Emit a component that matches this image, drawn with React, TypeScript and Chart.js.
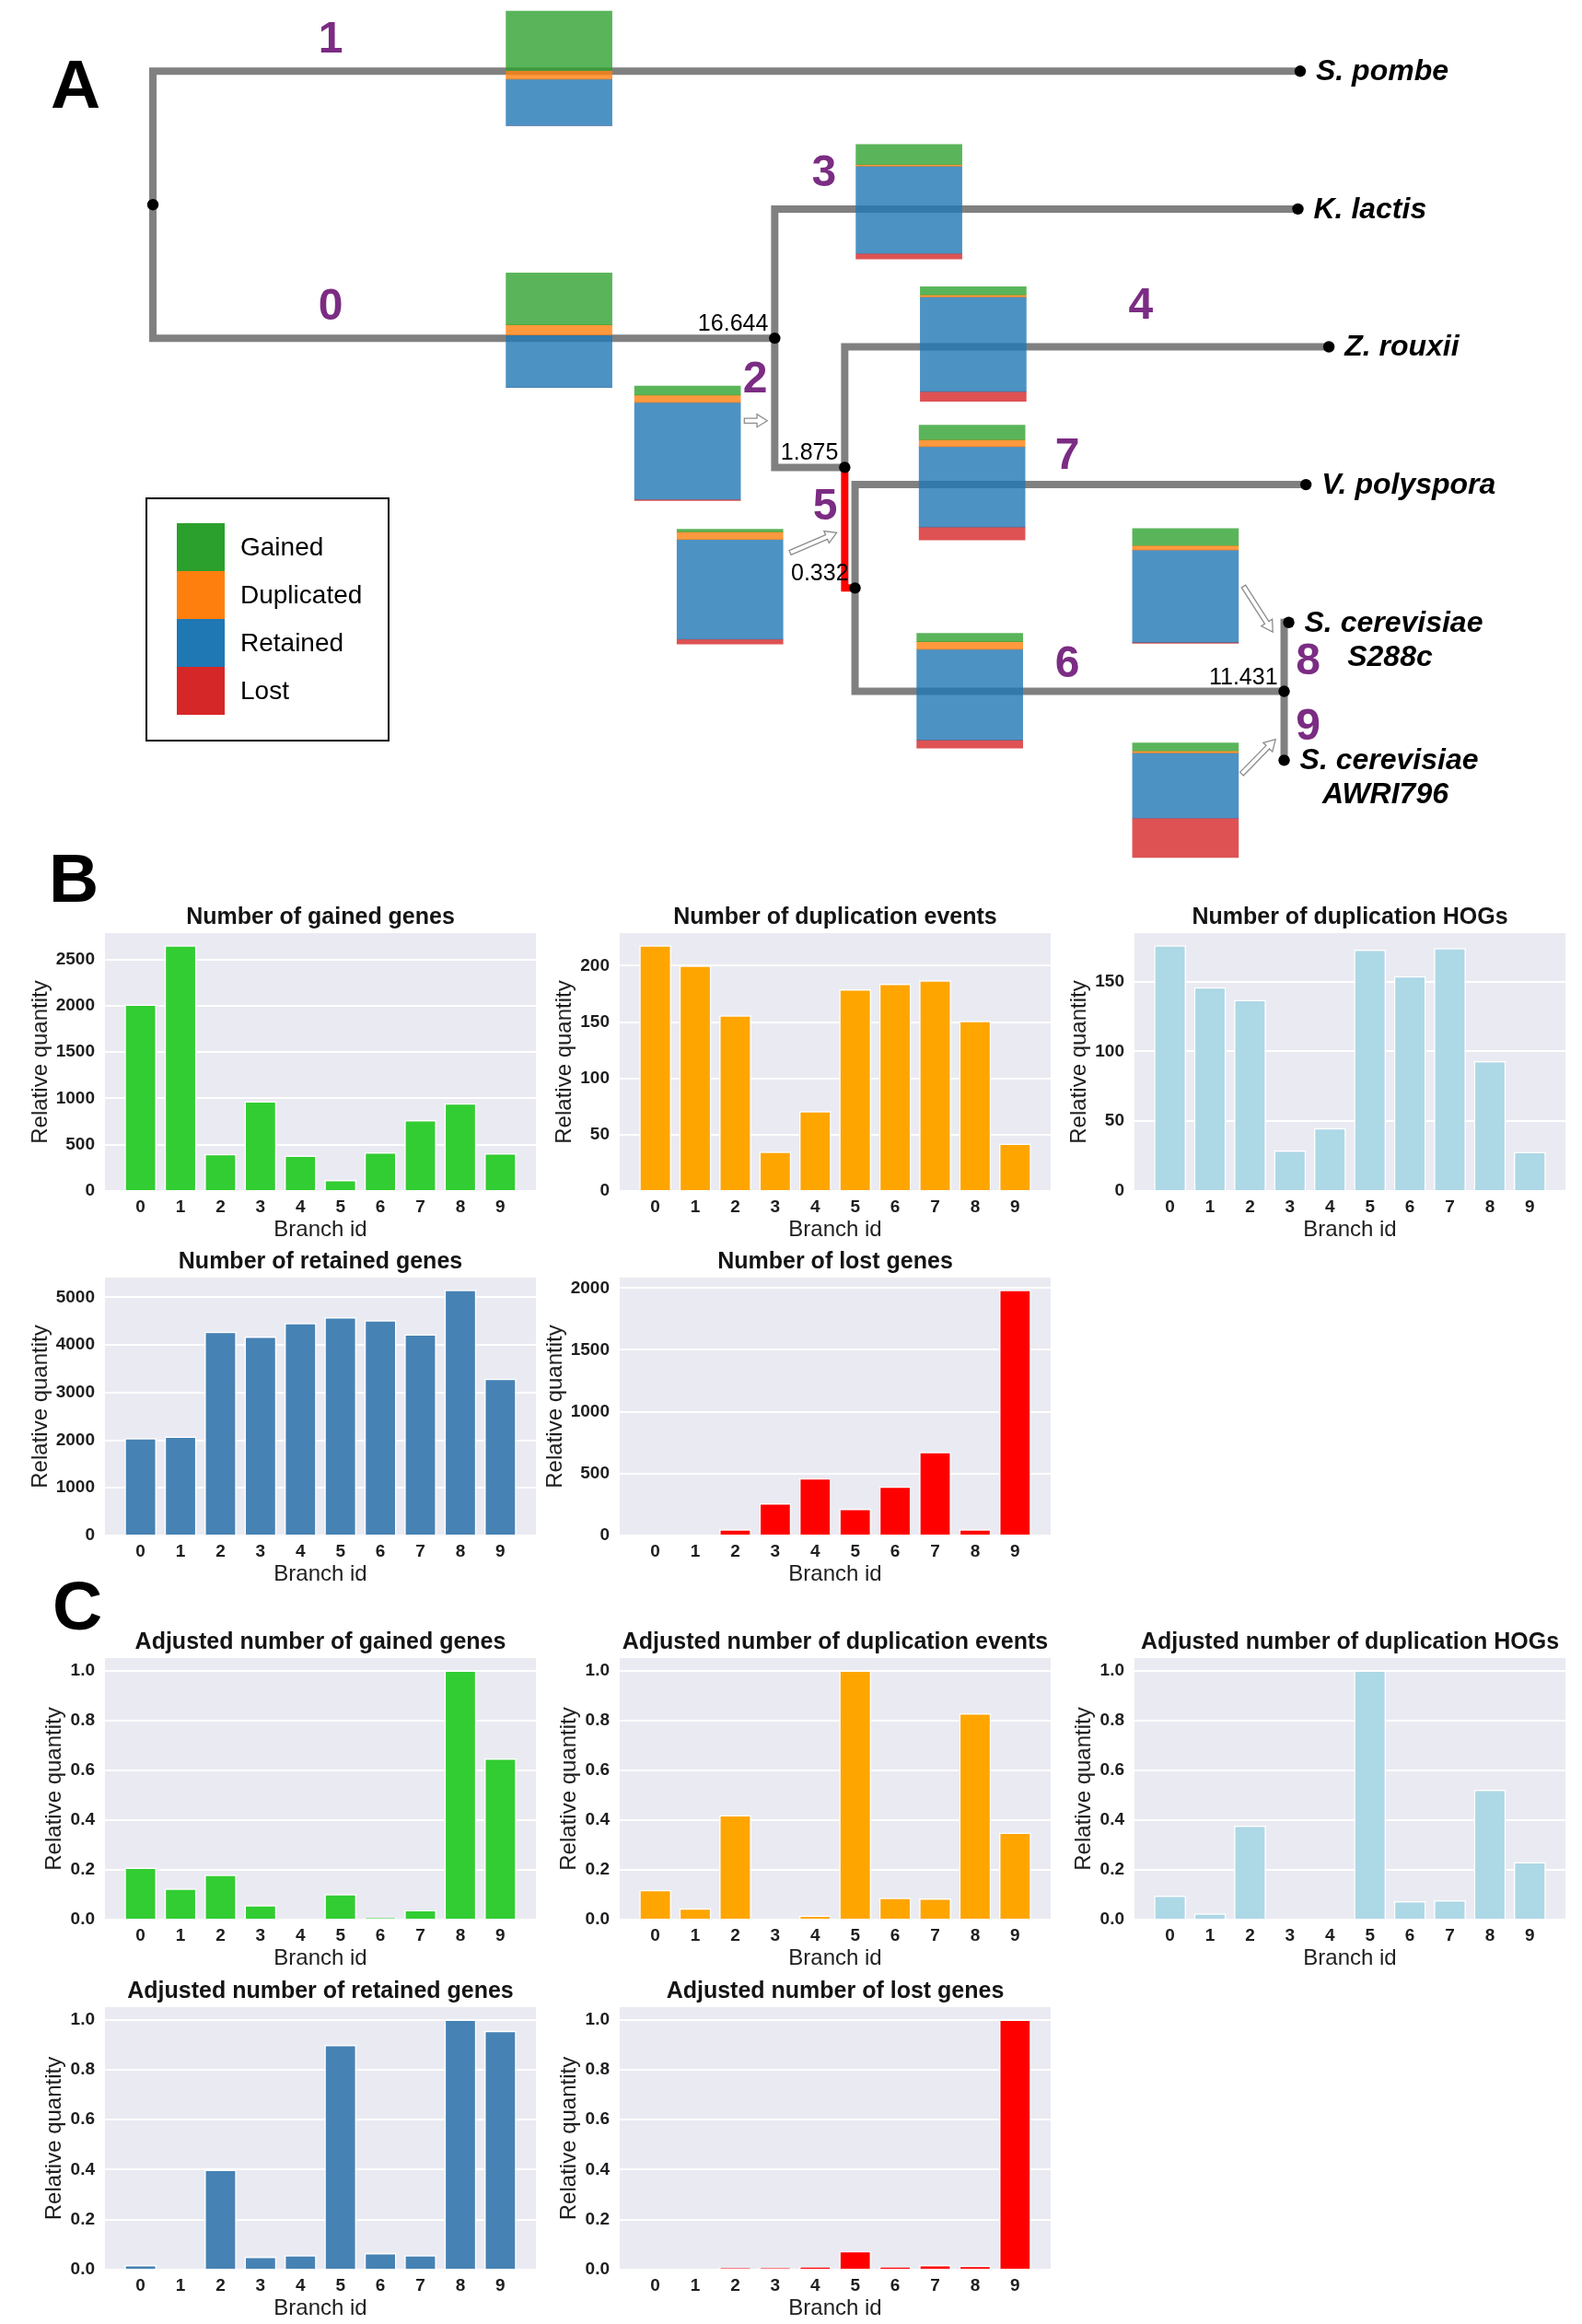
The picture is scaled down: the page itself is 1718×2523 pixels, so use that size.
import React, { useEffect, useRef } from 'react';
import { Chart, registerables } from 'chart.js';

Chart.register(...registerables);

const FONT = '"Liberation Sans", Arial, Helvetica, sans-serif';
Chart.defaults.font.family = FONT;

// ---------------- DATA ----------------
const BRANCH_IDS = ['0', '1', '2', '3', '4', '5', '6', '7', '8', '9'];

const gainedGenes = [2013, 2652, 400, 970, 384, 119, 417, 765, 947, 407];
const duplicationEvents = [218, 200, 156, 35, 71, 179, 184, 187, 151, 42];
const duplicationHOGs = [176, 146, 137, 29, 45, 173, 154, 174, 93, 28];
const retainedGenes = [2044, 2076, 4274, 4177, 4460, 4582, 4518, 4222, 5154, 3290];
const lostGenes = [0, 0, 50, 260, 463, 215, 396, 676, 50, 1985];
// duplicated genes per branch (used in the tree's stacked boxes)
const duplicatedGenes = [390, 370, 322, 73, 100, 351, 374, 360, 250, 95];

const adjGained = [0.209, 0.125, 0.18, 0.058, 0, 0.103, 0.008, 0.039, 1.0, 0.647];
const adjDupEvents = [0.119, 0.045, 0.42, 0, 0.017, 1.0, 0.088, 0.085, 0.828, 0.349];
const adjDupHOGs = [0.096, 0.025, 0.377, 0, 0.003, 1.0, 0.074, 0.078, 0.521, 0.231];
const adjRetained = [0.018, 0, 0.4, 0.052, 0.058, 0.899, 0.066, 0.058, 1.0, 0.955];
const adjLost = [0, 0, 0.007, 0.007, 0.012, 0.075, 0.012, 0.018, 0.016, 1.0];

// Tree (cladogram): leaves in vertical order, internal nodes with depth
const LEAF_NAMES = ['S. pombe', 'K. lactis', 'Z. rouxii', 'V. polyspora', 'S. cerevisiae\nS288c', 'S. cerevisiae\nAWRI796'];
const LEAF_DEPTH = [100.0, 99.8, 102.5, 100.5, 99.0, 98.6];
const INTERNAL_IDS = ['root', 'n1', 'n2', 'n3', 'n4'];
const INTERNAL_DEPTH = [0, 54.2, 60.3, 61.2, 98.6];
const INTERNAL_LABELS = ['', '16.644', '1.875', '0.332', '11.431'];
// branch id -> parent / child
const BRANCH_PARENT = ['root', 'root', 'n1', 'n1', 'n2', 'n2', 'n3', 'n3', 'n4', 'n4'];
const BRANCH_CHILD = ['n1', 'L0', 'n2', 'L1', 'L2', 'n3', 'n4', 'L3', 'L4', 'L5'];
const HIGHLIGHT_BRANCH = 5;

const EVENT_CATEGORIES = ['Gained', 'Duplicated', 'Retained', 'Lost'];

// ---------------- LAYOUT / STYLE ----------------
const TREE_W = 1718;
const TREE_H = 950;
const PX_PER_DEPTH = 12.55;
const ROOT_PX = 161;
const PX_PER_LEAF = 151.6;
const FIRST_LEAF_PX = 72;

// annotation placement (depth units, leaf units)
const BOX_DEPTH = [35.4, 35.4, 46.6, 65.9, 71.5, 50.3, 71.2, 71.4, 90.0, 90.0];
const BOX_YPOS = [1.88, -0.02, 2.7, 0.947, 1.98, 3.74, 4.495, 2.985, 3.735, 5.29];
const BOX_H = 0.832;
const BOX_W_PX = 115;
const ID_LABEL_POS = [
  [15.5, 1.704], [15.5, -0.238], [52.5, 2.232], [58.5, 0.733], [86.1, 1.691],
  [58.6, 3.151], [79.7, 4.293], [79.7, 2.781], [100.7, 4.273], [100.7, 4.749],
];
const ARROWS = [
  [[51.55, 2.536], [53.55, 2.536]],
  [[55.54, 3.494], [59.6, 3.349]],
  [[95.06, 3.738], [97.61, 4.069]],
  [[94.9, 5.099], [97.85, 4.848]],
];
const LEGEND_BOX = { left: 159, top: 541, right: 422, bottom: 804, patchL: 192, patchW: 52, firstTop: 568, rowH: 52, textX: 261 };

const TAB_COLORS = ['rgb(44,160,44)', 'rgb(255,127,14)', 'rgb(31,119,180)', 'rgb(214,39,40)'];
const BOX_COLORS = ['rgba(44,160,44,0.78)', 'rgba(255,127,14,0.8)', 'rgba(31,119,180,0.8)', 'rgba(214,39,40,0.8)'];
const PURPLE = '#7b2c83';

// ---------------- TREE CHART ----------------
function buildTree() {
  const pos: Record<string, { x: number; y: number }> = {};
  LEAF_NAMES.forEach((_, i) => { pos['L' + i] = { x: LEAF_DEPTH[i], y: i }; });
  const childrenOf = (id: string) => BRANCH_CHILD.filter((_, b) => BRANCH_PARENT[b] === id);
  const yOf = (id: string): number => {
    if (pos[id]) return pos[id].y;
    const ch = childrenOf(id);
    const y = ch.reduce((s, c) => s + yOf(c), 0) / ch.length;
    const k = INTERNAL_IDS.indexOf(id);
    pos[id] = { x: INTERNAL_DEPTH[k], y };
    return y;
  };
  INTERNAL_IDS.forEach(yOf);
  return pos;
}

function drawHollowArrow(ctx: CanvasRenderingContext2D, x1: number, y1: number, x2: number, y2: number) {
  const dx = x2 - x1, dy = y2 - y1;
  const L = Math.hypot(dx, dy);
  const a = Math.atan2(dy, dx);
  const head = Math.min(12, L * 0.45), sw = 2.6, hw = 7;
  ctx.save();
  ctx.translate(x1, y1);
  ctx.rotate(a);
  ctx.beginPath();
  ctx.moveTo(0, -sw);
  ctx.lineTo(L - head, -sw);
  ctx.lineTo(L - head, -hw);
  ctx.lineTo(L, 0);
  ctx.lineTo(L - head, hw);
  ctx.lineTo(L - head, sw);
  ctx.lineTo(0, sw);
  ctx.closePath();
  ctx.fillStyle = '#ffffff';
  ctx.fill();
  ctx.strokeStyle = '#8c8c8c';
  ctx.lineWidth = 1.3;
  ctx.stroke();
  ctx.restore();
}

function TreeChart() {
  const ref = useRef<HTMLCanvasElement>(null);
  useEffect(() => {
    const pos = buildTree();
    const datasets: any[] = [];
    BRANCH_PARENT.forEach((p, b) => {
      const P = pos[p], C = pos[BRANCH_CHILD[b]];
      datasets.push({
        type: 'line',
        data: [{ x: P.x, y: P.y }, { x: P.x, y: C.y }, { x: C.x, y: C.y }],
        borderColor: b === HIGHLIGHT_BRANCH ? '#ff0000' : '#808080',
        borderWidth: 8,
        borderJoinStyle: 'miter',
        borderCapStyle: 'butt',
        pointRadius: 0,
        tension: 0,
        fill: false,
        order: 10,
      });
    });
    // stacked boxes
    const counts = [gainedGenes, duplicatedGenes, retainedGenes, lostGenes];
    const totals = BRANCH_IDS.map((_, b) => counts.reduce((s, arr) => s + arr[b], 0));
    EVENT_CATEGORIES.forEach((cat, k) => {
      datasets.push({
        type: 'bar',
        label: cat,
        data: BRANCH_IDS.map((_, b) => {
          const top = BOX_YPOS[b] - BOX_H / 2;
          let before = 0;
          for (let j = 0; j < k; j++) before += counts[j][b];
          const y0 = top + (before / totals[b]) * BOX_H;
          const y1 = y0 + (counts[k][b] / totals[b]) * BOX_H;
          return { x: BOX_DEPTH[b], y: [y0, y1] };
        }),
        backgroundColor: BOX_COLORS[k],
        borderWidth: 0,
        barThickness: BOX_W_PX,
        grouped: false,
        order: 2,
      });
    });
    // node dots
    datasets.push({
      type: 'scatter',
      data: Object.keys(pos).map((id) => ({ x: pos[id].x, y: pos[id].y })),
      pointRadius: 6.2,
      pointBackgroundColor: '#000',
      pointBorderWidth: 0,
      order: 0,
    });

    const annotations = {
      id: 'treeAnnotations',
      afterDatasetsDraw(chart: any) {
        const { ctx } = chart;
        const X = (v: number) => chart.scales.x.getPixelForValue(v);
        const Y = (v: number) => chart.scales.y.getPixelForValue(v);
        ctx.save();
        // internal node labels
        ctx.font = `25px ${FONT}`;
        ctx.fillStyle = '#000';
        ctx.textAlign = 'right';
        ctx.textBaseline = 'alphabetic';
        INTERNAL_IDS.forEach((id, k) => {
          if (!INTERNAL_LABELS[k]) return;
          ctx.fillText(INTERNAL_LABELS[k], X(pos[id].x) - 7, Y(pos[id].y) - 8);
        });
        // branch ids
        ctx.font = `bold 48px ${FONT}`;
        ctx.fillStyle = PURPLE;
        ctx.textAlign = 'center';
        ctx.textBaseline = 'middle';
        BRANCH_IDS.forEach((id, b) => {
          ctx.fillText(id, X(ID_LABEL_POS[b][0]), Y(ID_LABEL_POS[b][1]) + 2);
        });
        // leaf names
        ctx.font = `italic bold 32px ${FONT}`;
        ctx.fillStyle = '#000';
        LEAF_NAMES.forEach((name, i) => {
          const lines = name.split('\n');
          const x0 = X(LEAF_DEPTH[i]) + 17;
          const y0 = Y(i) + 1;
          ctx.textAlign = 'left';
          ctx.fillText(lines[0], x0, y0);
          if (lines[1]) {
            const w = ctx.measureText(lines[0]).width;
            ctx.textAlign = 'center';
            ctx.fillText(lines[1], x0 + w / 2 - 4, y0 + 37);
          }
        });
        // arrows
        ARROWS.forEach(([f, t]) => drawHollowArrow(ctx, X(f[0]), Y(f[1]), X(t[0]), Y(t[1])));
        // legend
        const L = LEGEND_BOX;
        ctx.strokeStyle = '#000';
        ctx.lineWidth = 2;
        ctx.strokeRect(L.left, L.top, L.right - L.left, L.bottom - L.top);
        ctx.font = `28px ${FONT}`;
        ctx.textAlign = 'left';
        ctx.textBaseline = 'middle';
        EVENT_CATEGORIES.forEach((cat, k) => {
          const top = L.firstTop + k * L.rowH;
          ctx.fillStyle = TAB_COLORS[k];
          ctx.fillRect(L.patchL, top, L.patchW, L.rowH);
          ctx.fillStyle = '#000';
          ctx.fillText(cat, L.textX, top + L.rowH / 2 + 1);
        });
        ctx.restore();
      },
    };

    const xMin = -ROOT_PX / PX_PER_DEPTH;
    const yMin = -FIRST_LEAF_PX / PX_PER_LEAF;
    const chart = new Chart(ref.current as HTMLCanvasElement, {
      type: 'scatter',
      data: { datasets },
      options: {
        animation: false,
        responsive: false,
        events: [],
        layout: { padding: 0 },
        plugins: { legend: { display: false }, tooltip: { enabled: false }, title: { display: false } },
        scales: {
          x: { type: 'linear', display: false, min: xMin, max: xMin + TREE_W / PX_PER_DEPTH, offset: false },
          y: { type: 'linear', display: false, reverse: true, min: yMin, max: yMin + TREE_H / PX_PER_LEAF, offset: false },
        },
      } as any,
      plugins: [annotations],
    });
    return () => chart.destroy();
  }, []);
  return (
    <canvas
      ref={ref}
      width={TREE_W}
      height={TREE_H}
      style={{ position: 'absolute', left: 0, top: 0, width: TREE_W, height: TREE_H }}
    />
  );
}

// ---------------- BAR PANELS ----------------
const COL_LEFT = [114, 673, 1232];
const PLOT_W = 468;
const ROW_TOP = [1013, 1387, 1800, 2179];
const ROW_H = [280, 280, 284, 285];
const TITLE_BLOCK = 36;
const X_AXIS_H = 57;

type PanelSpec = { title: string; values: number[]; color: string; step: number; dec: number; col: number; row: number; yw: number };

const PANELS: PanelSpec[] = [
  { title: 'Number of gained genes', values: gainedGenes, color: '#32cd32', step: 500, dec: 0, col: 0, row: 0, yw: 84 },
  { title: 'Number of duplication events', values: duplicationEvents, color: '#ffa500', step: 50, dec: 0, col: 1, row: 0, yw: 74 },
  { title: 'Number of duplication HOGs', values: duplicationHOGs, color: '#add8e6', step: 50, dec: 0, col: 2, row: 0, yw: 74 },
  { title: 'Number of retained genes', values: retainedGenes, color: '#4682b4', step: 1000, dec: 0, col: 0, row: 1, yw: 84 },
  { title: 'Number of lost genes', values: lostGenes, color: '#ff0000', step: 500, dec: 0, col: 1, row: 1, yw: 84 },
  { title: 'Adjusted number of gained genes', values: adjGained, color: '#32cd32', step: 0.2, dec: 1, col: 0, row: 2, yw: 69 },
  { title: 'Adjusted number of duplication events', values: adjDupEvents, color: '#ffa500', step: 0.2, dec: 1, col: 1, row: 2, yw: 69 },
  { title: 'Adjusted number of duplication HOGs', values: adjDupHOGs, color: '#add8e6', step: 0.2, dec: 1, col: 2, row: 2, yw: 69 },
  { title: 'Adjusted number of retained genes', values: adjRetained, color: '#4682b4', step: 0.2, dec: 1, col: 0, row: 3, yw: 69 },
  { title: 'Adjusted number of lost genes', values: adjLost, color: '#ff0000', step: 0.2, dec: 1, col: 1, row: 3, yw: 69 },
];

const plotBg = {
  id: 'plotBg',
  beforeDraw(chart: any) {
    const { ctx, chartArea: a } = chart;
    ctx.save();
    ctx.fillStyle = '#eaeaf2';
    ctx.fillRect(a.left, a.top, a.right - a.left, a.bottom - a.top);
    ctx.restore();
  },
};

function BarPanel({ spec }: { spec: PanelSpec }) {
  const ref = useRef<HTMLCanvasElement>(null);
  const left = COL_LEFT[spec.col] - spec.yw;
  const top = ROW_TOP[spec.row] - TITLE_BLOCK;
  const width = spec.yw + PLOT_W + 2;
  const height = TITLE_BLOCK + ROW_H[spec.row] + X_AXIS_H;
  useEffect(() => {
    const n = BRANCH_IDS.length;
    const xPad = 0.4 + 0.05 * (n - 1 + 0.8);
    const yMax = Math.max(...spec.values) * 1.05;
    const tickFont = { size: 19, weight: 'bold' as const };
    const chart = new Chart(ref.current as HTMLCanvasElement, {
      type: 'bar',
      data: {
        datasets: [
          {
            data: spec.values.map((v, i) => ({ x: i, y: v })),
            backgroundColor: spec.color,
            borderColor: '#ffffff',
            borderWidth: 1.5,
            barPercentage: 1,
            categoryPercentage: 0.8,
          },
        ],
      },
      options: {
        animation: false,
        responsive: false,
        events: [],
        layout: { padding: { left: 0, top: 0, bottom: 0, right: 2 } },
        plugins: {
          legend: { display: false },
          tooltip: { enabled: false },
          title: {
            display: true,
            text: spec.title,
            fullSize: false,
            color: '#141414',
            font: { size: 25, weight: 'bold' },
            padding: { top: 4, bottom: 2 },
          },
        },
        scales: {
          x: {
            type: 'linear',
            min: -xPad,
            max: n - 1 + xPad,
            offset: false,
            grid: { display: false, drawTicks: false },
            border: { display: false },
            ticks: {
              padding: 6,
              color: '#1e1e1e',
              font: tickFont,
              autoSkip: false,
              maxRotation: 0,
              callback: (v: any) => BRANCH_IDS[Math.round(v)] ?? '',
            },
            afterBuildTicks: (s: any) => {
              s.ticks = BRANCH_IDS.map((_, i) => ({ value: i }));
            },
            title: { display: true, text: 'Branch id', color: '#1e1e1e', font: { size: 24 }, padding: 0 },
            afterFit: (s: any) => { s.height = X_AXIS_H; },
          },
          y: {
            type: 'linear',
            min: 0,
            max: yMax,
            grid: { color: '#ffffff', lineWidth: 2, drawTicks: false },
            border: { display: false },
            ticks: {
              padding: 11,
              color: '#1e1e1e',
              font: tickFont,
              callback: (v: any) => Number(v).toFixed(spec.dec),
            },
            afterBuildTicks: (s: any) => {
              const t: { value: number }[] = [];
              for (let k = 0; k * spec.step <= yMax + 1e-9; k++) t.push({ value: k * spec.step });
              s.ticks = t;
            },
            title: { display: true, text: 'Relative quantity', color: '#1e1e1e', font: { size: 24 }, padding: 0 },
            afterFit: (s: any) => { s.width = spec.yw; },
          },
        },
      } as any,
      plugins: [plotBg],
    });
    return () => chart.destroy();
  }, []);
  return (
    <canvas
      ref={ref}
      width={width}
      height={height}
      style={{ position: 'absolute', left, top, width, height }}
    />
  );
}

const letterStyle = (left: number, top: number): React.CSSProperties => ({
  position: 'absolute',
  left,
  top,
  fontFamily: FONT,
  fontWeight: 'bold',
  fontSize: 75,
  lineHeight: '75px',
  color: '#000',
});

export default function App() {
  return (
    <div style={{ position: 'absolute', left: 0, top: 0, width: 1718, height: 2523, background: '#fff', overflow: 'hidden' }}>
      <TreeChart />
      {PANELS.map((p, i) => (
        <BarPanel key={i} spec={p} />
      ))}
      <div style={letterStyle(55, 54)}>A</div>
      <div style={letterStyle(53, 916)}>B</div>
      <div style={letterStyle(57, 1706)}>C</div>
    </div>
  );
}
